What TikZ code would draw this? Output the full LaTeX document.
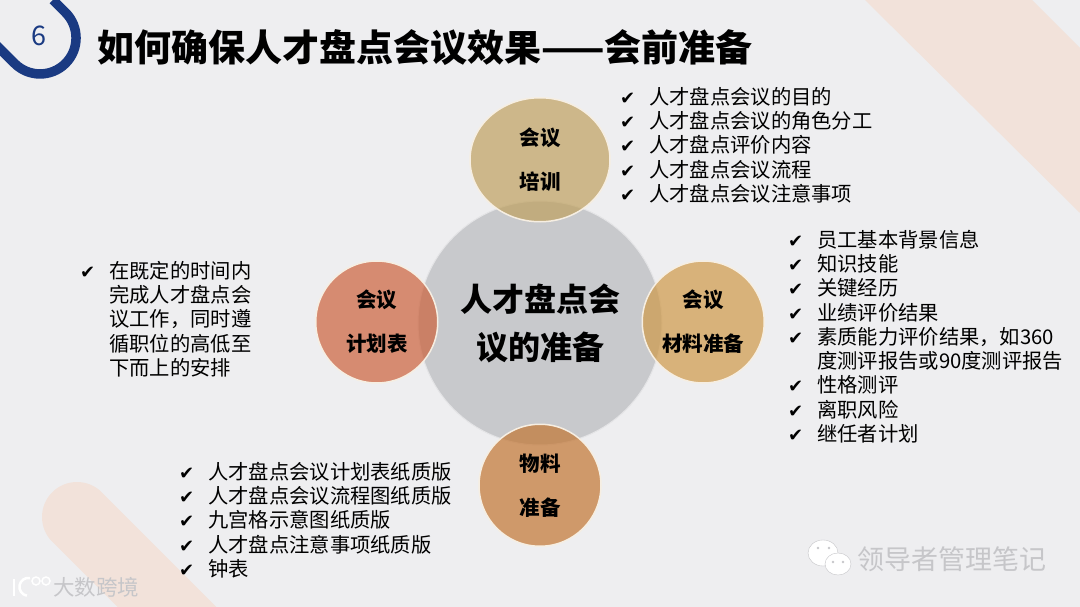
\documentclass[tikz,border=0pt]{standalone}
\usepackage{fontspec}
\setmainfont{Noto Sans CJK SC}
\newfontfamily\dejavu{DejaVu Sans}
\usetikzlibrary{positioning,shapes.geometric}
\definecolor{page_bg}{HTML}{EEEEF0}
\definecolor{band_col}{HTML}{F2E2DA}
\definecolor{navy_col}{HTML}{1A3A82}
\definecolor{mark_col}{HTML}{C6C6C9}
\definecolor{center_col}{HTML}{C8C9CC}
\definecolor{edge_col}{HTML}{F6EEE2}
\definecolor{train_col}{HTML}{BFA15F}
\definecolor{plan_col}{HTML}{CC623C}
\definecolor{data_col}{HTML}{CF9948}
\definecolor{goods_col}{HTML}{C27532}
\newcommand{\chk}{\makebox[29pt][l]{\dejavu\fontsize{18}{24.3}\selectfont ✔}}
\tikzset{
center_item/.style={circle, draw=white!50!center_col, line width=1pt, fill=center_col, minimum size=244pt, inner sep=0pt, align=center, font=\fontsize{32}{48}\selectfont\bfseries},
petal/.style={ellipse, draw=edge_col, line width=1.5pt, fill opacity=0.7, text opacity=1, inner sep=0pt, align=center, minimum width=122pt, minimum height=122pt, font=\fontsize{20.5}{44}\selectfont\bfseries},
list_text/.style={anchor=west, align=left, inner sep=0pt, text=black, font=\fontsize{20.3}{24.3}\selectfont},
mark_text/.style={text=mark_col, inner sep=0pt}
}

\begin{document}
\begin{tikzpicture}[x=1pt,y=-1pt]
    \useasboundingbox (0,0) rectangle (1080,607);
    \fill[page_bg] (0,0) rectangle (1080,607);
    % bands behind everything
    \begin{scope}
        \clip (0,0) rectangle (1080,607);
        \fill[band_col] (865,0) -- (1032,0) -- (1080,48) -- (1080,213) -- cycle;
        \draw[band_col, line width=70pt, line cap=round] (77,517) -- (197,637);
        \draw[navy_col, line width=9.5pt] (53,0) -- (65.5,12.5) arc[start angle=45, end angle=-135, radius=36pt] -- (-10,39);
    \end{scope}
    \node[text=navy_col, inner sep=0pt, font=\fontsize{27}{27}\selectfont] (page_no) at (39,36) {6};
    \node[anchor=west, inner sep=0pt, font=\fontsize{37}{40}\selectfont\bfseries] (title) at (97,48) {如何确保人才盘点会议效果——会前准备};

    % circles
    \node[center_item] (center) at (540,323) {人才盘点会\\议的准备};
    \node[petal, minimum width=140pt, minimum height=124pt, fill=train_col] (train) [above=-22pt of center] {会议\\培训};
    \node[petal, fill=plan_col] (plan) [left=-21pt of center, yshift=1pt] {会议\\计划表};
    \node[petal, fill=data_col] (data) [right=-21pt of center, yshift=1pt] {会议\\材料准备};
    \node[petal, fill=goods_col] (goods) [below=-23pt of center, yshift=-1pt] {物料\\准备};

    % lists
    \node[list_text] (list_train) at (620,145) {\chk 人才盘点会议的目的\\\chk 人才盘点会议的角色分工\\\chk 人才盘点评价内容\\\chk 人才盘点会议流程\\\chk 人才盘点会议注意事项};
    \node[list_text] (list_data) at (788,336.5) {\chk 员工基本背景信息\\\chk 知识技能\\\chk 关键经历\\\chk 业绩评价结果\\\chk 素质能力评价结果，如360\\\hspace*{29pt}度测评报告或90度测评报告\\\chk 性格测评\\\chk 离职风险\\\chk 继任者计划};
    \node[list_text] (list_goods) at (179,520) {\chk 人才盘点会议计划表纸质版\\\chk 人才盘点会议流程图纸质版\\\chk 九宫格示意图纸质版\\\chk 人才盘点注意事项纸质版\\\chk 钟表};
    \node[list_text] (list_plan) at (80,319) {\chk 在既定的时间内\\\hspace*{29pt}完成人才盘点会\\\hspace*{29pt}议工作，同时遵\\\hspace*{29pt}循职位的高低至\\\hspace*{29pt}下而上的安排};

    % watermarks
    \node[mark_text, anchor=west, font=\fontsize{21.5}{24}\selectfont] (mark_left) at (53,587) {大数跨境};
    \draw[white, line width=2.5pt] (14,579) -- (14,596);
    \draw[white, line width=2.5pt] (30,578) arc[start angle=80, end angle=260, radius=9pt];
    \draw[white, line width=1.5pt] (36,581) circle[radius=4pt] (46,581) circle[radius=4pt];
    \fill[white, draw=mark_col] (823,553) ellipse[x radius=15pt, y radius=13pt];
    \fill[white, draw=mark_col] (838,564) ellipse[x radius=13pt, y radius=11pt];
    \foreach \dx/\dy in {818/548, 829/548, 833/562, 843/562}
        \fill[mark_col] (\dx,\dy) circle[radius=1.3pt];
    \node[mark_text, anchor=west, font=\fontsize{27}{30}\selectfont] (mark_right) at (857,559) {领导者管理笔记};
\end{tikzpicture}
\end{document}
